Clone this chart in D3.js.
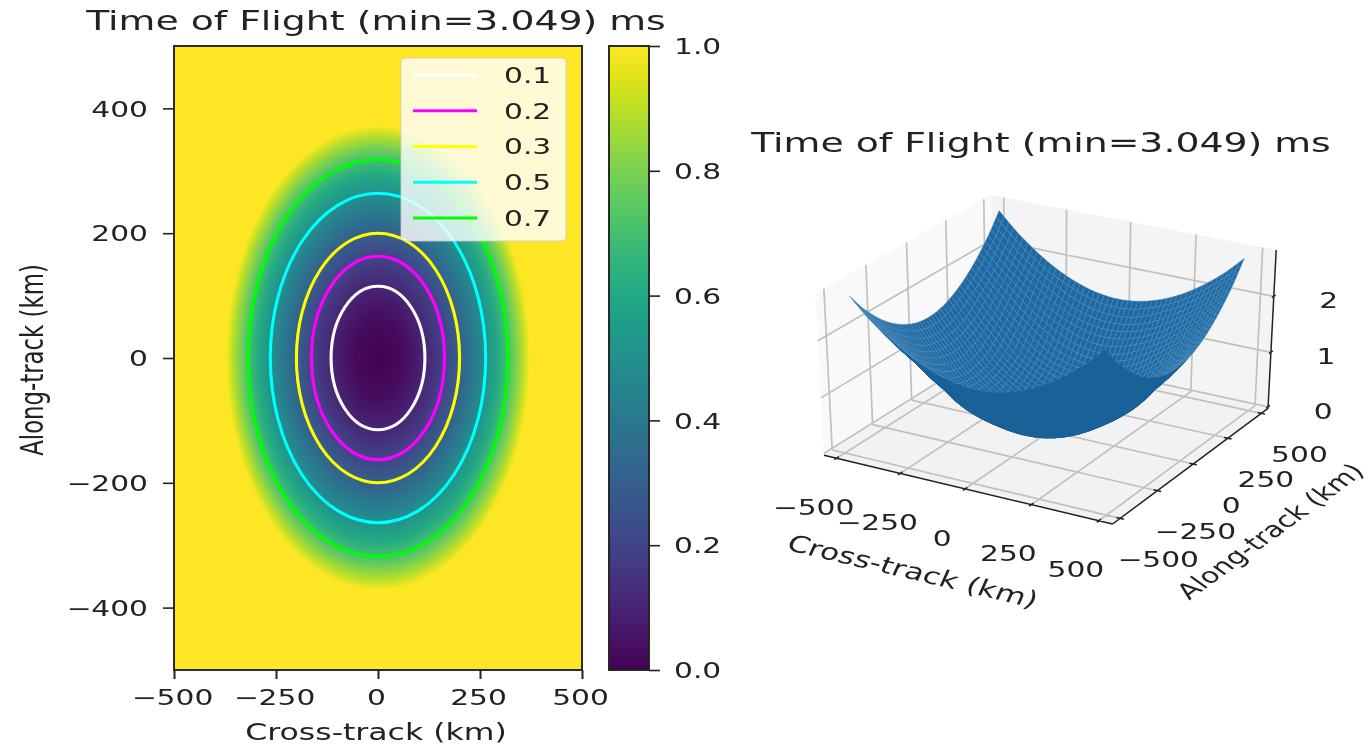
<!DOCTYPE html>
<html><head><meta charset="utf-8">
<script src="https://cdn.jsdelivr.net/npm/d3@7"></script>
<style>
html,body{margin:0;padding:0;background:#fff;overflow:hidden}
svg{display:block;filter:blur(0.6px)}
text{font-family:"DejaVu Sans";fill:#222}
</style></head><body><svg id="c" width="1370" height="745"></svg>
<script>
const chartTitle = "Time of Flight (min=3.049) ms";
const xLabel = "Cross-track (km)";
const yLabel = "Along-track (km)";
const heatXTicks = [-500,-250,0,250,500];
const heatYTicks = [-400,-200,0,200,400];
const barTicks = [0,0.2,0.4,0.6,0.8,1.0];
const contourLevels = [0.1,0.2,0.3,0.5,0.7];
const contourRadii = [115,163,200,264,318];
const contourColors = ["#ffffff","#ff00ff","#ffff00","#00ffff","#00ff00"];
const profileKm = [0,60,115,163,200,232,264,292,318,338,357,372,440,472,528,570,620,668];
const profileMs = [0,0.03,0.1,0.2,0.3,0.4,0.5,0.6,0.7,0.8,0.9,1.0,1.36,1.56,1.86,2.1,2.4,2.72];
const surfEdgeKm = 472;
const surfTicks = [-500,-250,0,250,500];
const surfZTicks = [0,1,2];
const surfXDomain = [-550,550];
const surfYDomain = [-550,550];
const surfZDomain = [-0.03,2.81];

const svg = d3.select("#c");
const SX=2.14, SY=1.55, F10=13.89, F12=16.67, L=1.06;
function label(x,y,str,size,rot,anchor,k){
  k=k||1;
  return svg.append("text").attr("transform",`translate(${x},${y}) scale(${SX*k},${SY*k}) rotate(${rot||0})`)
    .attr("text-anchor",anchor||"middle").attr("dy",".36em").attr("font-size",size).text(str);
}
// ---------- heat map ----------
const x = d3.scaleLinear().domain([-500,500]).range([174,582]);
const y = d3.scaleLinear().domain([-500,500]).range([670,46]);
const color = d3.scaleSequential(d3.interpolateViridis).domain([0,1]);
const defs = svg.append("defs");
const rMax = profileKm[profileMs.indexOf(1.0)];
const rg = defs.append("radialGradient").attr("id","heat");
profileKm.forEach((r,i)=>{ if(profileMs[i]<=1) rg.append("stop").attr("offset",r/rMax).attr("stop-color",color(profileMs[i])); });
svg.append("rect").attr("x",x(-500)).attr("y",y(500)).attr("width",x(500)-x(-500)).attr("height",y(-500)-y(500)).attr("fill",color(1));
svg.append("ellipse").attr("cx",x(0)).attr("cy",y(0)).attr("rx",x(rMax)-x(0)).attr("ry",y(0)-y(rMax)).attr("fill","url(#heat)");
svg.selectAll(".ring").data(contourLevels).join("ellipse").attr("class","ring")
  .attr("cx",x(0)).attr("cy",y(0))
  .attr("rx",(d,i)=>x(contourRadii[i])-x(0)).attr("ry",(d,i)=>y(0)-y(contourRadii[i]))
  .attr("fill","none").attr("stroke-width",3.1).attr("stroke",(d,i)=>contourColors[i]);
function styleAxis(g,txOff,anchor,tyOff){
  g.select(".domain").remove();
  g.selectAll("line").attr("stroke","#222");
  g.selectAll("text").attr("x",0).attr("y",0).attr("dy",".36em").attr("font-size",F10).attr("font-family","DejaVu Sans")
    .attr("text-anchor",anchor).attr("fill","#222")
    .attr("transform",`translate(${txOff},${tyOff}) scale(${SX},${SY})`);
}
const gx = svg.append("g").attr("transform",`translate(0,${y(-500)})`)
  .call(d3.axisBottom(x).tickValues(heatXTicks).tickSize(9)).call(g=>styleAxis(g,-2,"middle",27));
gx.selectAll("line").attr("stroke-width",2);
const gy = svg.append("g").attr("transform",`translate(${x(-500)},0)`)
  .call(d3.axisLeft(y).tickValues(heatYTicks).tickSize(11)).call(g=>styleAxis(g,-26,"end",0));
gy.selectAll("line").attr("stroke-width",1.6);
svg.append("rect").attr("x",x(-500)).attr("y",y(500)).attr("width",x(500)-x(-500)).attr("height",y(-500)-y(500))
  .attr("fill","none").attr("stroke","#222").attr("stroke-width",1.9);
label(376,20,chartTitle,F12,0,"middle",L);
label(376,732,xLabel,F10,0,"middle",L);
label(32,360,yLabel,F10,-90,"middle",L);
// legend
const lx0=401,ly0=58,lw=165,lh=183;
svg.append("rect").attr("x",lx0).attr("y",ly0).attr("width",lw).attr("height",lh).attr("rx",5).attr("ry",4)
  .attr("fill","#fff").attr("fill-opacity",0.8).attr("stroke","#ccc").attr("stroke-opacity",.8);
const legRow = d3.scalePoint().domain(contourLevels).range([75,218]);
const leg = svg.selectAll(".leg").data(contourLevels).join("g").attr("class","leg");
leg.append("line").attr("x1",413).attr("x2",477).attr("y1",d=>legRow(d)).attr("y2",d=>legRow(d))
  .attr("stroke",(d,i)=>contourColors[i]).attr("stroke-width",3);
leg.each(function(d){ label(504,legRow(d),d3.format(".1f")(d),F10,0,"start"); });
// colour bar
const cbY = d3.scaleLinear().domain([0,1]).range([670,46]);
const lg = defs.append("linearGradient").attr("id","cb").attr("x1",0).attr("x2",0).attr("y1",1).attr("y2",0);
d3.range(0,1.0001,0.05).forEach(t=>lg.append("stop").attr("offset",t).attr("stop-color",color(t)));
svg.append("rect").attr("x",609).attr("y",46).attr("width",40).attr("height",624).attr("fill","url(#cb)").attr("stroke","#222").attr("stroke-width",1.9);
const gc = svg.append("g").attr("transform","translate(649,0)")
  .call(d3.axisRight(cbY).tickValues(barTicks).tickSize(11).tickFormat(d3.format(".1f"))).call(g=>styleAxis(g,25,"start",0));
gc.selectAll("line").attr("stroke-width",1.6);

// ---------- 3D surface ----------
const el=30*Math.PI/180, az=-60*Math.PI/180, dist=10, boxZ=0.75;
const dot=(a,b)=>a[0]*b[0]+a[1]*b[1]+a[2]*b[2];
const sub=(a,b)=>[a[0]-b[0],a[1]-b[1],a[2]-b[2]];
const cross=(a,b)=>[a[1]*b[2]-a[2]*b[1],a[2]*b[0]-a[0]*b[2],a[0]*b[1]-a[1]*b[0]];
const norm=a=>{const l=Math.hypot(...a);return a.map(v=>v/l)};
const eye=[.5+dist*Math.cos(az)*Math.cos(el),.5+dist*Math.sin(az)*Math.cos(el),boxZ/2+dist*Math.sin(el)];
const nv=norm(sub(eye,[.5,.5,boxZ/2])), uv=norm(cross([0,0,1],nv)), vv=cross(nv,uv);
const nx=d3.scaleLinear().domain(surfXDomain).range([0,1]),
      ny=d3.scaleLinear().domain(surfYDomain).range([0,1]),
      nz=d3.scaleLinear().domain(surfZDomain).range([0,boxZ]);
function raw(a,b,c){const d=sub([nx(a),ny(b),nz(c)],eye);const w=-dot(d,nv);return [dot(d,uv)/w,dot(d,vv)/w,w];}
const [X0,X1]=surfXDomain,[Y0,Y1]=surfYDomain,[Z0,Z1]=surfZDomain;
const sx=d3.scaleLinear().domain([raw(X0,Y0,Z0)[0],raw(X1,Y1,Z0)[0]]).range([824,1268]);
const sy=d3.scaleLinear().domain([raw(X1,Y0,Z0)[1],raw(X0,Y1,Z1)[1]]).range([524,195]);
const P=(a,b,c)=>{const r=raw(a,b,c);return [sx(r[0]),sy(r[1])];};
const poly=pts=>"M"+pts.map(p=>p.join(",")).join("L")+"Z";
const seg=(a,b)=>"M"+a.join(",")+"L"+b.join(",");
const g3=svg.append("g");
g3.append("path").attr("d",poly([P(X0,Y0,Z0),P(X0,Y1,Z0),P(X0,Y1,Z1),P(X0,Y0,Z1)])).attr("fill","#f9f9f9");
g3.append("path").attr("d",poly([P(X0,Y1,Z0),P(X1,Y1,Z0),P(X1,Y1,Z1),P(X0,Y1,Z1)])).attr("fill","#f4f4f4");
g3.append("path").attr("d",poly([P(X0,Y0,Z0),P(X1,Y0,Z0),P(X1,Y1,Z0),P(X0,Y1,Z0)])).attr("fill","#f2f2f2");
const gridD=[];
surfTicks.forEach(t=>{
  gridD.push(seg(P(t,Y0,Z0),P(t,Y1,Z0)), seg(P(t,Y1,Z0),P(t,Y1,Z1)));
  gridD.push(seg(P(X1,t,Z0),P(X0,t,Z0)), seg(P(X0,t,Z0),P(X0,t,Z1)));
});
surfZTicks.forEach(t=>{ gridD.push(seg(P(X0,Y0,t),P(X0,Y1,t)), seg(P(X0,Y1,t),P(X1,Y1,t))); });
g3.append("path").attr("d",gridD.join("")).attr("fill","none").attr("stroke","#c0c0c0").attr("stroke-width",1.7);
// surface
const profile=d3.scaleLinear().domain(profileKm).range(profileMs);
const gridKm=d3.range(0,51).map(d3.scaleLinear().domain([0,50]).range([-surfEdgeKm,surfEdgeKm]));
const cells=[];
for(let i=0;i<gridKm.length-1;i++)for(let j=0;j<gridKm.length-1;j++){
  const c=[[gridKm[i],gridKm[j]],[gridKm[i+1],gridKm[j]],[gridKm[i+1],gridKm[j+1]],[gridKm[i],gridKm[j+1]]]
    .map(([a,b])=>raw(a,b,profile(Math.hypot(a,b))));
  const area=d3.polygonArea(c.map(r=>[r[0],r[1]]));
  cells.push({pts:c.map(r=>[sx(r[0]),sy(r[1])]),depth:d3.mean(c,r=>r[2]),top:area<0});
}
cells.sort((a,b)=>b.depth-a.depth);
g3.append("g").selectAll("path").data(cells).join("path")
  .attr("d",d=>poly(d.pts))
  .attr("fill",d=>d.top?"#1f69a3":"#1a6198")
  .attr("stroke",d=>d.top?"#4a8bbc":"#1a6198")
  .attr("stroke-width",d=>d.top?0.4:0.7);
// axes
const axD=seg(P(X0,Y0,Z0),P(X1,Y0,Z0))+seg(P(X1,Y0,Z0),P(X1,Y1,Z0))+seg(P(X1,Y1,Z0),P(X1,Y1,Z1));
const tickKm=14;
const tkD=[];
surfTicks.forEach(t=>{
  tkD.push(seg(P(t,Y0-tickKm,Z0),P(t,Y0+tickKm,Z0)));
  tkD.push(seg(P(X1+tickKm,t,Z0),P(X1-tickKm,t,Z0)));
});
surfZTicks.forEach(t=>tkD.push(seg(P(X1,Y1-tickKm,t),P(X1,Y1+tickKm,t))));
g3.append("path").attr("d",axD+tkD.join("")).attr("fill","none").attr("stroke","#222").attr("stroke-width",1.5);
const fmt=d3.format("d");
surfTicks.forEach(t=>{
  const a=P(t,Y0,Z0); label(a[0]-23,a[1]+49,fmt(t),F10);
  const b=P(X1,t,Z0); label(b[0]+38,b[1]+41,fmt(t),F10);
});
surfZTicks.forEach(t=>{ const a=P(X1,Y1,t); label(a[0]+55,a[1]+4,fmt(t),F10); });
label(1041,142,chartTitle,F12,0,"middle",L);
label(913,571,xLabel,F10,18,"middle",L);
label(1270,531,yLabel,F10,-45);
</script></body></html>
